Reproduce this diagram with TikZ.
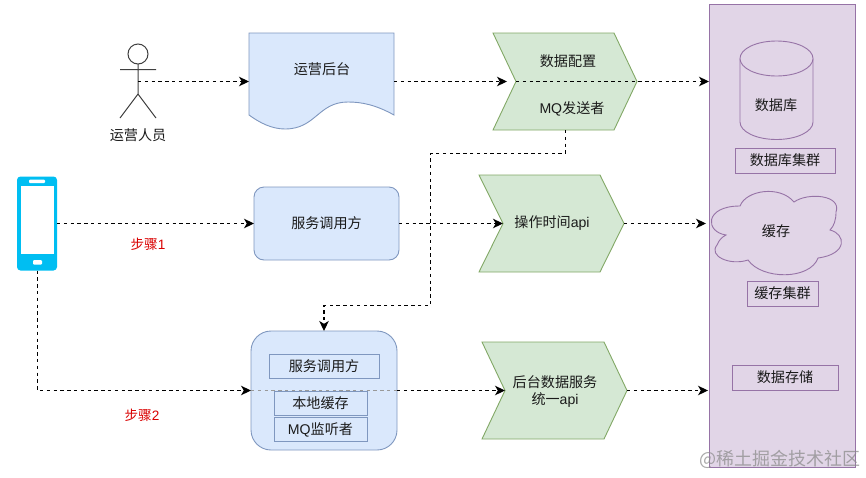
\documentclass[tikz,border=0pt]{standalone}
\usepackage{fontspec}
\setmainfont{Noto Sans CJK SC}
\newfontfamily\latfont{Liberation Sans}
\usetikzlibrary{arrows.meta}
\definecolor{blueF}{HTML}{DAE8FC}
\definecolor{blueD}{HTML}{7F97BF}
\definecolor{greenF}{HTML}{D5E8D4}
\definecolor{greenD}{HTML}{82A866}
\definecolor{purpF}{HTML}{E1D5E7}
\definecolor{purpD}{HTML}{9673A6}
\definecolor{phoneC}{HTML}{00BEF2}
\definecolor{txt}{HTML}{1A1A1A}
\newcommand{\lat}[1]{{\latfont #1}}
\tikzset{
  every node/.style={outer sep=0pt,inner sep=0pt,text=txt,font=\fontsize{14.1}{17}\selectfont,align=center},
  bluebox/.style={draw=blueD,fill=blueF,line width=0.9pt},
  greenbox/.style={draw=greenD,fill=greenF,line width=0.9pt},
  purpbox/.style={draw=purpD,fill=purpF,line width=0.9pt},
  flow/.style={draw=black,line width=1.1pt,dash pattern=on 3.4pt off 3.4pt,-{Stealth[length=10pt,width=9.5pt,inset=2.8pt]}},
  figure/.style={draw=black!75,line width=1pt},
  redlabel/.style={text=red!85!black,font=\fontsize{13.6}{16}\selectfont}
}
\begin{document}
\begin{tikzpicture}[x=1pt,y=-1pt]
\useasboundingbox (0,0) rectangle (866,477);
% storage column
\node[purpbox,minimum width=146pt,minimum height=463pt] (store) at (782,235.5) {};
\coordinate (storeA) at (709,81.5);
\coordinate (storeB) at (706,223.5);
\coordinate (storeC) at (708,390.5);
% actor
\coordinate (actorBody) at (138,81.5);
\draw[figure,fill=white] (138,54) circle (10);
\draw[figure] (120,69.5) -- (156,69.5) (138,64) -- (138,94) (120,118) -- (138,94) -- (156,118);
\node (actorLabel) at (138,135.5) {运营人员};
% document
\draw[bluebox] (249,33) -- (394,33) -- (394,115)
  .. controls (376,105) and (362,102) .. (348,102) .. controls (318,102) and (316,129) .. (285,129)
  .. controls (272,129) and (260,123) .. (249,115) -- cycle;
\coordinate (docL) at (249,81.5);
\coordinate (docR) at (394,81.5);
\node (docLabel) at (322,69) {运营后台};
% chevron 1
\draw[greenbox] (493,33) -- (614,33) -- (637,81.5) -- (614,130) -- (493,130) -- (516,81.5) -- cycle;
\coordinate (chevAin) at (507,81.5);
\coordinate (chevAnotch) at (516,81.5);
\coordinate (chevAbot) at (565.5,130);
\node (chevAtop) at (568,61) {数据配置};
\node (chevAlow) at (572,109) {\lat{MQ}发送者};
% chevron 2
\draw[greenbox] (479,175) -- (600,175) -- (624,223.5) -- (600,272) -- (479,272) -- (503,223.5) -- cycle;
\coordinate (chevBin) at (503,223.5);
\coordinate (chevBout) at (624,223.5);
\node (chevBtext) at (552,223) {操作时间\lat{api}};
% chevron 3
\draw[greenbox] (482,342) -- (604,342) -- (627,390.5) -- (604,439) -- (482,439) -- (505,390.5) -- cycle;
\coordinate (chevCin) at (505,390.5);
\coordinate (chevCout) at (627,390.5);
\node (chevCtext) at (555,391.5) {后台数据服务\\统一\lat{api}};
% service box
\node[bluebox,rounded corners=10pt,minimum width=145pt,minimum height=73pt] (svc) at (326.5,223.5) {服务调用方};
% bottom box
\node[bluebox,rounded corners=20pt,minimum width=146pt,minimum height=119pt] (app) at (324,390.5) {};
\draw[dash pattern=on 3.4pt off 3.4pt,line width=0.8pt,draw=black!40] (app.west) -- (app.east);
\node[bluebox,minimum width=110pt,minimum height=24pt] (appA) at (324,366) {服务调用方};
\node[bluebox,minimum width=93pt,minimum height=24pt] (appB) at (320.5,403) {本地缓存};
\node[bluebox,minimum width=93pt,minimum height=24pt] (appC) at (320.5,429.5) {\lat{MQ}监听者};
% phone
\fill[phoneC,rounded corners=3.5pt] (17,176.5) rectangle (57,270.5);
\fill[white] (21,186) rectangle (54,254);
\fill[white,rounded corners=1pt] (29,179.5) rectangle (45,183);
\fill[white,rounded corners=1pt] (33,260) rectangle (42,264.5);
\coordinate (phoneR) at (57,223.5);
\coordinate (phoneB) at (37.5,270.5);
% storage contents
\draw[purpbox] (740,58.5) .. controls (740,48.8) and (756.3,41) .. (776.5,41)
  .. controls (796.7,41) and (813,48.8) .. (813,58.5) -- (813,122)
  .. controls (813,131.7) and (796.7,139.5) .. (776.5,139.5)
  .. controls (756.3,139.5) and (740,131.7) .. (740,122) -- cycle;
\draw[purpbox] (740,58.5) .. controls (740,68.2) and (756.3,76) .. (776.5,76)
  .. controls (796.7,76) and (813,68.2) .. (813,58.5);
\node (dbText) at (776,105) {数据库};
\node[purpbox,minimum width=100pt,minimum height=25pt] (dbBox) at (785,160.5) {数据库集群};
\draw[purpbox] (740,206)
  .. controls (746,190) and (780,185) .. (794,202)
  .. controls (808,192) and (842,195) .. (836,212)
  .. controls (836,220) and (834,226) .. (830,230)
  .. controls (846,234) and (848,254) .. (818,258)
  .. controls (810,280) and (762,280) .. (748,260)
  .. controls (730,266) and (708,256) .. (717,245)
  .. controls (719,240) and (722,237) .. (726,235)
  .. controls (705,232) and (704,206) .. (740,206) -- cycle;
\node (cloudText) at (776,231) {缓存};
\node[purpbox,minimum width=71pt,minimum height=25pt] (cacheBox) at (782.5,293.5) {缓存集群};
\node[purpbox,minimum width=106pt,minimum height=25pt] (storeBox) at (785,377.5) {数据存储};
% connectors
\draw[flow] (actorBody) -- (docL);
\draw[flow] (docR) -- (chevAin);
\draw[flow] (chevAnotch) -- (storeA);
\draw[flow] (phoneR) -- (svc.west);
\draw[flow] (svc.east) -- (chevBin);
\draw[flow] (chevBout) -- (storeB);
\draw[flow] (phoneB) |- (app.west);
\draw[flow] (app.east) -- (chevCin);
\draw[flow] (chevCout) -- (storeC);
\coordinate (elbowA) at (430.5,153.5);
\coordinate (elbowB) at (430.5,305.5);
\draw[flow] (chevAbot) |- (elbowA) -- (elbowB) -| (app.north);
% labels
\node[redlabel] (step1) at (148,244) {步骤\lat{1}};
\node[redlabel] (step2) at (142,415) {步骤\lat{2}};
\node[text=black!45,opacity=0.75,font=\fontsize{18}{20}\selectfont] (mark) at (780,459.5) {@稀土掘金技术社区};
\end{tikzpicture}
\end{document}
